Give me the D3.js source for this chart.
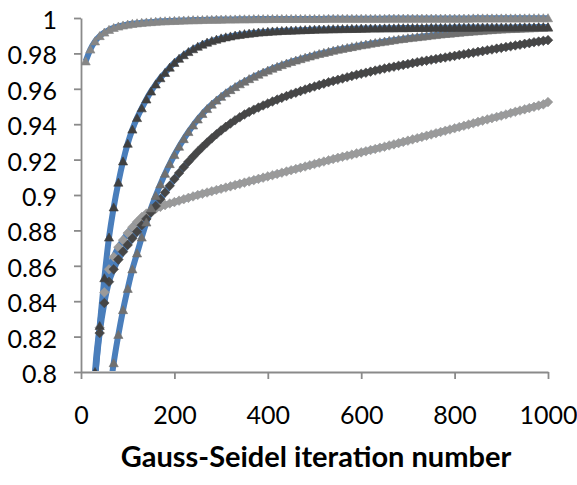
<!DOCTYPE html>
<html>
<head>
<meta charset="utf-8">
<script src="https://cdn.jsdelivr.net/npm/d3@7"></script>
<style>
  html, body { margin: 0; padding: 0; background: #ffffff; }
  svg { display: block; }
</style>
</head>
<body>
<svg id="chart" width="577" height="485"></svg>
<script>
// Gauss-Seidel iterations sampled every 10 steps
const iterations = d3.range(10, 1001, 10);

// Series values, one entry per sampled iteration (10, 20, ..., 1000)
const series1 = [
  0.9755, 0.9822, 0.9868, 0.9898, 0.9918, 0.9933, 0.9944, 0.9952, 0.9958, 0.9963,
  0.9967, 0.9970, 0.9973, 0.9975, 0.9977, 0.9979, 0.9981, 0.9982, 0.9983, 0.9984,
  0.9985, 0.9986, 0.9987, 0.9988, 0.9988, 0.9989, 0.9990, 0.9990, 0.9991, 0.9991,
  0.9992, 0.9992, 0.9992, 0.9993, 0.9993, 0.9993, 0.9994, 0.9994, 0.9994, 0.9994,
  0.9995, 0.9995, 0.9995, 0.9995, 0.9995, 0.9995, 0.9995, 0.9995, 0.9995, 0.9995,
  0.9995, 0.9995, 0.9996, 0.9996, 0.9996, 0.9996, 0.9996, 0.9996, 0.9996, 0.9996,
  0.9996, 0.9996, 0.9996, 0.9996, 0.9996, 0.9997, 0.9997, 0.9997, 0.9997, 0.9997,
  0.9997, 0.9997, 0.9997, 0.9997, 0.9997, 0.9997, 0.9997, 0.9997, 0.9997, 0.9997,
  0.9997, 0.9997, 0.9997, 0.9998, 0.9998, 0.9998, 0.9998, 0.9998, 0.9998, 0.9998,
  0.9998, 0.9998, 0.9998, 0.9998, 0.9998, 0.9999, 0.9999, 0.9999, 0.9999, 0.9999
];
const series2 = [
  0.6800, 0.7450, 0.8000, 0.8260, 0.8530, 0.8760, 0.8930, 0.9070, 0.9190, 0.9290,
  0.9370, 0.9435, 0.9490, 0.9540, 0.9585, 0.9625, 0.9660, 0.9690, 0.9720, 0.9747,
  0.9770, 0.9790, 0.9808, 0.9824, 0.9838, 0.9850, 0.9861, 0.9870, 0.9878, 0.9885,
  0.9891, 0.9896, 0.9901, 0.9905, 0.9909, 0.9912, 0.9915, 0.9918, 0.9920, 0.9922,
  0.9924, 0.9925, 0.9927, 0.9928, 0.9929, 0.9930, 0.9931, 0.9932, 0.9933, 0.9934,
  0.9935, 0.9935, 0.9936, 0.9937, 0.9937, 0.9938, 0.9938, 0.9939, 0.9939, 0.9940,
  0.9940, 0.9941, 0.9941, 0.9941, 0.9942, 0.9942, 0.9942, 0.9943, 0.9943, 0.9943,
  0.9944, 0.9944, 0.9944, 0.9944, 0.9945, 0.9945, 0.9945, 0.9945, 0.9945, 0.9946,
  0.9946, 0.9946, 0.9946, 0.9946, 0.9946, 0.9947, 0.9947, 0.9947, 0.9947, 0.9947,
  0.9947, 0.9947, 0.9947, 0.9948, 0.9948, 0.9948, 0.9948, 0.9949, 0.9949, 0.9949
];
const series3 = [
  0.4500, 0.5500, 0.6350, 0.7000, 0.7500, 0.7840, 0.8050, 0.8210, 0.8350, 0.8470,
  0.8580, 0.8670, 0.8760, 0.8845, 0.8925, 0.8995, 0.9060, 0.9120, 0.9175, 0.9226,
  0.9273, 0.9316, 0.9356, 0.9393, 0.9427, 0.9458, 0.9486, 0.9511, 0.9534, 0.9555,
  0.9575, 0.9593, 0.9610, 0.9626, 0.9641, 0.9655, 0.9668, 0.9680, 0.9692, 0.9703,
  0.9714, 0.9724, 0.9734, 0.9743, 0.9752, 0.9760, 0.9768, 0.9776, 0.9783, 0.9790,
  0.9797, 0.9803, 0.9809, 0.9815, 0.9821, 0.9826, 0.9831, 0.9836, 0.9841, 0.9846,
  0.9850, 0.9855, 0.9859, 0.9863, 0.9867, 0.9871, 0.9875, 0.9879, 0.9882, 0.9886,
  0.9889, 0.9892, 0.9895, 0.9898, 0.9901, 0.9904, 0.9907, 0.9910, 0.9912, 0.9915,
  0.9917, 0.9920, 0.9922, 0.9924, 0.9926, 0.9928, 0.9930, 0.9932, 0.9934, 0.9935,
  0.9937, 0.9938, 0.9939, 0.9940, 0.9941, 0.9942, 0.9943, 0.9944, 0.9945, 0.9945
];
const series4 = [
  0.7000, 0.7650, 0.7970, 0.8220, 0.8390, 0.8510, 0.8580, 0.8635, 0.8680, 0.8718,
  0.8755, 0.8792, 0.8829, 0.8865, 0.8901, 0.8938, 0.8976, 0.9014, 0.9052, 0.9090,
  0.9124, 0.9157, 0.9188, 0.9217, 0.9245, 0.9271, 0.9296, 0.9320, 0.9343, 0.9365,
  0.9385, 0.9404, 0.9422, 0.9439, 0.9455, 0.9469, 0.9482, 0.9494, 0.9506, 0.9517,
  0.9528, 0.9539, 0.9549, 0.9559, 0.9569, 0.9578, 0.9587, 0.9596, 0.9605, 0.9613,
  0.9621, 0.9629, 0.9637, 0.9644, 0.9651, 0.9658, 0.9665, 0.9672, 0.9679, 0.9685,
  0.9691, 0.9697, 0.9703, 0.9709, 0.9715, 0.9720, 0.9725, 0.9730, 0.9735, 0.9740,
  0.9745, 0.9750, 0.9755, 0.9759, 0.9764, 0.9768, 0.9773, 0.9777, 0.9782, 0.9786,
  0.9791, 0.9795, 0.9800, 0.9804, 0.9809, 0.9813, 0.9818, 0.9822, 0.9827, 0.9831,
  0.9836, 0.9840, 0.9845, 0.9849, 0.9854, 0.9858, 0.9863, 0.9867, 0.9871, 0.9875
];
const series5 = [
  0.6800, 0.7500, 0.7950, 0.8250, 0.8450, 0.8580, 0.8650, 0.8705, 0.8745, 0.8785,
  0.8818, 0.8848, 0.8875, 0.8895, 0.8910, 0.8922, 0.8933, 0.8943, 0.8952, 0.8960,
  0.8968, 0.8976, 0.8984, 0.8992, 0.9000, 0.9007, 0.9014, 0.9021, 0.9028, 0.9035,
  0.9042, 0.9049, 0.9056, 0.9063, 0.9070, 0.9077, 0.9084, 0.9091, 0.9098, 0.9105,
  0.9112, 0.9119, 0.9126, 0.9133, 0.9140, 0.9147, 0.9154, 0.9161, 0.9168, 0.9175,
  0.9182, 0.9189, 0.9196, 0.9203, 0.9210, 0.9216, 0.9222, 0.9228, 0.9235, 0.9241,
  0.9247, 0.9254, 0.9260, 0.9267, 0.9273, 0.9280, 0.9286, 0.9293, 0.9300, 0.9307,
  0.9314, 0.9321, 0.9328, 0.9335, 0.9342, 0.9349, 0.9356, 0.9363, 0.9370, 0.9377,
  0.9384, 0.9391, 0.9398, 0.9405, 0.9413, 0.9420, 0.9427, 0.9434, 0.9441, 0.9448,
  0.9455, 0.9463, 0.9470, 0.9477, 0.9484, 0.9491, 0.9498, 0.9505, 0.9512, 0.9525
];

const xTicks = [0, 200, 400, 600, 800, 1000];
const xTickLabels = ["0", "200", "400", "600", "800", "1000"];
const yTicks = [0.8, 0.82, 0.84, 0.86, 0.88, 0.9, 0.92, 0.94, 0.96, 0.98, 1];
const yTickLabels = ["0.8", "0.82", "0.84", "0.86", "0.88", "0.9", "0.92", "0.94", "0.96", "0.98", "1"];
const xTitle = "Gauss-Seidel iteration number";

// Marker appearance for each series (drawn back to front)
const seriesStyle = [
  { values: series5, shape: "diamond",  color: "#9a9a9a" },
  { values: series4, shape: "diamond",  color: "#464646" },
  { values: series3, shape: "triangle", color: "#707070" },
  { values: series2, shape: "triangle", color: "#404040" },
  { values: series1, shape: "triangle", color: "#868686" }
];
const lineColor = "#4a7ebb";

const svg = d3.select("#chart");
const plotLeft = 81, plotRight = 548, plotTop = 18, plotBottom = 372;

const x = d3.scaleLinear().domain([0, 1000]).range([plotLeft, plotRight]);
const y = d3.scaleLinear().domain([0.8, 1]).range([plotBottom, plotTop]);

svg.append("rect").attr("width", 577).attr("height", 485).attr("fill", "#ffffff");

svg.append("defs").append("clipPath").attr("id", "plot-clip")
  .append("rect")
  .attr("x", plotLeft).attr("y", 0)
  .attr("width", 577 - plotLeft).attr("height", plotBottom - 1);

const tickFont = "Lato, 'Open Sans', sans-serif";
const axisColor = "#8a8a8a";

// Y axis
const yAxis = svg.append("g")
  .attr("transform", `translate(${plotLeft},0)`)
  .call(d3.axisLeft(y)
    .tickValues(yTicks)
    .tickFormat((d, i) => yTickLabels[i])
    .tickSize(7)
    .tickSizeOuter(0)
    .tickPadding(17));
// X axis
const xAxis = svg.append("g")
  .attr("transform", `translate(0,${plotBottom})`)
  .call(d3.axisBottom(x)
    .tickValues(xTicks)
    .tickFormat((d, i) => xTickLabels[i])
    .tickSize(7)
    .tickSizeOuter(0)
    .tickPadding(27));

[yAxis, xAxis].forEach(g => {
  g.select(".domain").attr("stroke", axisColor).attr("stroke-width", 1.8);
  g.selectAll(".tick line").attr("stroke", axisColor).attr("stroke-width", 1.8);
  g.selectAll(".tick text")
    .attr("fill", "#000000")
    .style("font-family", tickFont)
    .style("font-size", "25px");
});
yAxis.selectAll(".tick text").attr("dy", "0.42em");

// Axis title
svg.append("text")
  .attr("x", 316)
  .attr("y", 467)
  .attr("text-anchor", "middle")
  .style("font-family", tickFont)
  .style("font-weight", "bold")
  .style("font-size", "29px")
  .attr("fill", "#000000")
  .text(xTitle);

const plot = svg.append("g").attr("clip-path", "url(#plot-clip)");

// Connecting lines for every series, under all markers
const line = d3.line()
  .x((d, i) => x(iterations[i]))
  .y(d => y(d))
  .curve(d3.curveMonotoneX);

seriesStyle.forEach(s => {
  plot.append("path")
    .datum(s.values)
    .attr("d", line)
    .attr("fill", "none")
    .attr("stroke", lineColor)
    .attr("stroke-width", 6)
    .attr("stroke-linejoin", "round");
});

const shapes = {
  triangle: "M0,-4.5L4.6,3.6L-4.6,3.6Z",
  diamond: "M0,-4.8L4.8,0L0,4.8L-4.8,0Z"
};

seriesStyle.forEach(s => {
  plot.append("g")
    .selectAll("path")
    .data(s.values)
    .join("path")
    .attr("d", shapes[s.shape])
    .attr("transform", (d, i) => `translate(${x(iterations[i])},${y(d)})`)
    .attr("fill", s.color)
    .attr("stroke", s.color)
    .attr("stroke-width", 0.6);
});
</script>
</body>
</html>
